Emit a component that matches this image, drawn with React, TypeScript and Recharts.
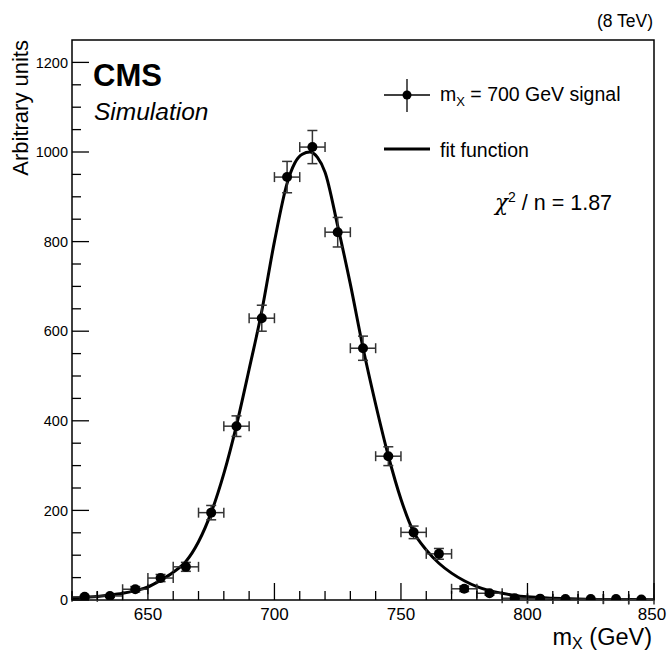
import React from "react";
import {
  ComposedChart,
  Line,
  Scatter,
  ErrorBar,
  XAxis,
  YAxis,
  ReferenceArea,
} from "recharts";

// binned signal (bin centres, contents, errors)
const binCenters = [625, 635, 645, 655, 665, 675, 685, 695, 705, 715, 725, 735, 745, 755, 765, 775, 785, 795, 805, 815, 825, 835, 845];
const binCounts = [7, 9, 24, 49, 74, 195, 388, 629, 944, 1011, 821, 562, 321, 151, 103, 25, 15, 4, 3, 2, 2, 2, 1];
const countErrors = [3, 3, 6, 8, 10, 16, 23, 29, 35, 37, 33, 27, 21, 14, 12, 6, 4, 2, 2, 1, 1, 1, 1];
const binHalfWidth = 5;

// fit function
const fitX = [620, 625, 630, 635, 640, 645, 650, 655, 660, 665, 670, 675, 680, 685, 690, 695, 700, 705, 708, 711, 714, 717, 720, 725, 730, 735, 740, 745, 750, 755, 760, 765, 770, 775, 780, 785, 790, 795, 800, 810, 820, 830, 840, 850];
const fitY = [4, 6, 8, 11, 15, 21, 29, 44, 62, 86, 130, 195, 282, 390, 515, 645, 800, 930, 975, 995, 1000, 988, 955, 835, 705, 563, 437, 322, 225, 152, 112, 82, 60, 43, 30, 21, 15, 10, 7, 4, 2, 1, 1, 0.5];

const xTicks = [620, 630, 640, 650, 660, 670, 680, 690, 700, 710, 720, 730, 740, 750, 760, 770, 780, 790, 800, 810, 820, 830, 840, 850];
const xMajor = [650, 700, 750, 800, 850];
const yTicks = [0, 50, 100, 150, 200, 250, 300, 350, 400, 450, 500, 550, 600, 650, 700, 750, 800, 850, 900, 950, 1000, 1050, 1100, 1150, 1200];
const yMajor = [0, 200, 400, 600, 800, 1000, 1200];

const points = binCenters.map((x, i) => ({
  x,
  y: binCounts[i],
  ex: binHalfWidth,
  ey: countErrors[i],
}));
const fit = fitX.map((x, i) => ({ x, y: fitY[i] }));

const FONT = "'Liberation Sans', Arial, Helvetica, sans-serif";

const YTick = (props: any) => {
  const { x, y, payload } = props;
  const major = yMajor.includes(payload.value);
  return (
    <g>
      <line x1={x} y1={y} x2={x + (major ? 17 : 9)} y2={y} stroke="#000" strokeWidth={1.3} />
      {major && (
        <text x={x - 4} y={y} dy="0.36em" textAnchor="end" fontSize={14.5} fontFamily={FONT} fill="#000">
          {payload.value}
        </text>
      )}
    </g>
  );
};

const XTick = (props: any) => {
  const { x, y, payload } = props;
  const major = xMajor.includes(payload.value);
  // keep the last label inside the page
  const shift = payload.value === 850 ? -2 : 0;
  return (
    <g>
      <line x1={x} y1={y} x2={x} y2={y - (major ? 17 : 9)} stroke="#000" strokeWidth={1.3} />
      {major && (
        <text x={x + shift} y={y + 20} textAnchor="middle" fontSize={17} fontFamily={FONT} fill="#000">
          {payload.value}
        </text>
      )}
    </g>
  );
};

const Dot = (props: any) => <circle cx={props.cx} cy={props.cy} r={5} fill="#000" />;

export default function App() {
  return (
    <div style={{ position: "absolute", left: 0, top: 0, width: 667, height: 653, background: "#fff" }}>
      <ComposedChart
        width={667}
        height={653}
        margin={{ top: 40, right: 13, bottom: 0, left: 0 }}
      >
        <XAxis
          type="number"
          dataKey="x"
          domain={[620, 850]}
          ticks={xTicks}
          interval={0}
          tickSize={0}
          tickMargin={0}
          axisLine={false}
          tickLine={false}
          tick={<XTick />}
          height={53}
          allowDataOverflow
        />
        <YAxis
          type="number"
          dataKey="y"
          domain={[0, 1250]}
          ticks={yTicks}
          interval={0}
          tickSize={0}
          tickMargin={0}
          axisLine={false}
          tickLine={false}
          tick={<YTick />}
          width={72}
          allowDataOverflow
        />
        <ReferenceArea
          x1={620}
          x2={850}
          y1={0}
          y2={1250}
          fill="none"
          stroke="#000"
          strokeWidth={1.5}
          ifOverflow="visible"
        />
        <Line
          data={fit}
          dataKey="y"
          type="monotone"
          stroke="#000"
          strokeWidth={3}
          dot={false}
          isAnimationActive={false}
        />
        <Scatter data={points} dataKey="y" shape={<Dot />} isAnimationActive={false}>
          <ErrorBar dataKey="ex" direction="x" width={5} stroke="#333" strokeWidth={1.5} />
          <ErrorBar dataKey="ey" direction="y" width={5} stroke="#333" strokeWidth={1.5} />
        </Scatter>
      </ComposedChart>

      <svg
        width={667}
        height={653}
        style={{ position: "absolute", left: 0, top: 0, pointerEvents: "none" }}
        fontFamily={FONT}
      >
        <text x={653} y={27} textAnchor="end" fontSize={17.5}>(8 TeV)</text>
        <text x={93} y={86} fontSize={31} fontWeight="bold">CMS</text>
        <text x={94} y={120} fontSize={24.5} fontStyle="italic">Simulation</text>

        {/* legend */}
        <line x1={384} y1={95} x2={430} y2={95} stroke="#000" strokeWidth={1.3} />
        <line x1={407} y1={79} x2={407} y2={112} stroke="#000" strokeWidth={1.3} />
        <circle cx={407} cy={95} r={4.5} fill="#000" />
        <text x={440} y={101} fontSize={19.5}>
          m<tspan fontSize={13} dy={5}>X</tspan>
          <tspan dy={-5}> = 700 GeV signal</tspan>
        </text>
        <line x1={384} y1={149} x2={430} y2={149} stroke="#000" strokeWidth={3} />
        <text x={440} y={157} fontSize={19.5}>fit function</text>
        <text x={495} y={210} fontSize={21.5}>
          <tspan fontStyle="italic" fontFamily="'DejaVu Serif', serif">χ</tspan>
          <tspan fontSize={14} dy={-8}>2</tspan>
          <tspan dy={8}> / n = 1.87</tspan>
        </text>

        {/* axis titles */}
        <text x={652} y={645} textAnchor="end" fontSize={23.5}>
          m<tspan fontSize={16} dy={4}>X</tspan>
          <tspan dy={-4}> (GeV)</tspan>
        </text>
        <text x={0} y={0} transform="translate(28,40) rotate(-90)" textAnchor="end" fontSize={22}>
          Arbitrary units
        </text>
      </svg>
    </div>
  );
}
